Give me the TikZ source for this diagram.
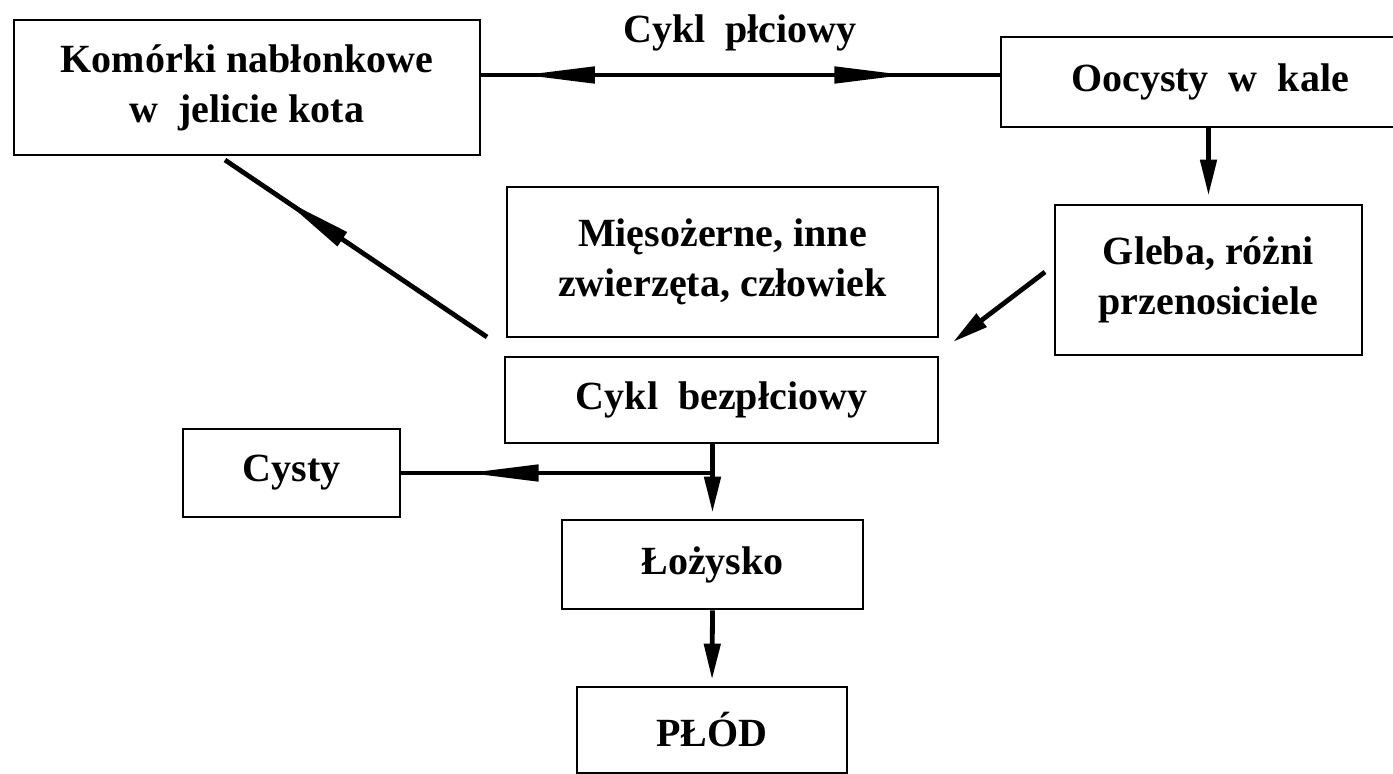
\documentclass[tikz,border=0pt]{standalone}
\usepackage{fontspec}
\setmainfont{Liberation Serif}
\usetikzlibrary{arrows.meta,decorations.markings}

\begin{document}
\begin{tikzpicture}[x=0.5pt,y=-0.5pt,
		>={Triangle[length=18pt,width=8pt]},
		link/.style={line width=2.4pt},
		midhead/.style={postaction={decorate,decoration={markings,
			mark=at position #1 with {\arrow{Triangle[length=36pt,width=8pt]}}}}},
		midback/.style={postaction={decorate,decoration={markings,
			mark=at position #1 with {\arrowreversed{Triangle[length=36pt,width=8pt]}}}}}]
	\useasboundingbox [fill=white] (0,0) rectangle (1393,774);
	\begin{scope}[every node/.style={draw,line width=1.4pt,align=center,inner sep=0pt,
			font=\bfseries\fontsize{20}{25}\selectfont}]
		\node [minimum width=233pt,minimum height=67.5pt] (kom) at (247,87.5) {Komórki nabłonkowe\\w\ \ jelicie kota};
		\node [minimum width=209pt,minimum height=45pt] (ooc) at (1210,82) {Oocysty\ \ w\ \ kale};
		\node [minimum width=215.5pt,minimum height=75pt] (mies) at (722.5,262) {Mięsożerne, inne\\zwierzęta, człowiek};
		\node [minimum width=216.5pt,minimum height=43pt] (cykl) at (721.5,400) {Cykl\ \ bezpłciowy};
		\node [minimum width=153.5pt,minimum height=75pt] (gleba) at (1208.5,280) {Gleba, różni\\przenosiciele};
		\node [minimum width=108.5pt,minimum height=44pt] (cysty) at (291.5,473) {Cysty};
		\node [minimum width=150.5pt,minimum height=44.5pt] (loz) at (712.5,564.5) {Łożysko};
		\node [minimum width=135pt,minimum height=43pt] (plod) at (712,730) {PŁÓD};
	\end{scope}
	\node [font=\bfseries\fontsize{20}{25}\selectfont] (cplab) at (740,33) {Cykl\ \ płciowy};

	\coordinate (cp) at (740,75);
	\coordinate (d1) at (225,160);
	\coordinate (d2) at (487,337);
	\coordinate (g1) at (1045,272);
	\coordinate (g2) at (953,342);
	\coordinate (cj) at (712,473);

	\path [link] (cp -| kom.east) edge [midback=0.08, midhead=0.82] (cp -| ooc.west);
	\path [link,->,shorten >=4pt] (gleba.north |- ooc.south) edge (gleba.north);
	\path [link] (d2) edge [midhead=0.78] (d1);
	\path [link,->] (g1) edge (g2);
	\path [link] (cj) edge [midhead=0.79] (cysty.east);
	\path [link,->,shorten >=3pt] (cykl.south -| loz.north) edge (loz.north);
	\path [link,->,shorten >=3pt] (loz.south) edge (plod.north);
\end{tikzpicture}
\end{document}
